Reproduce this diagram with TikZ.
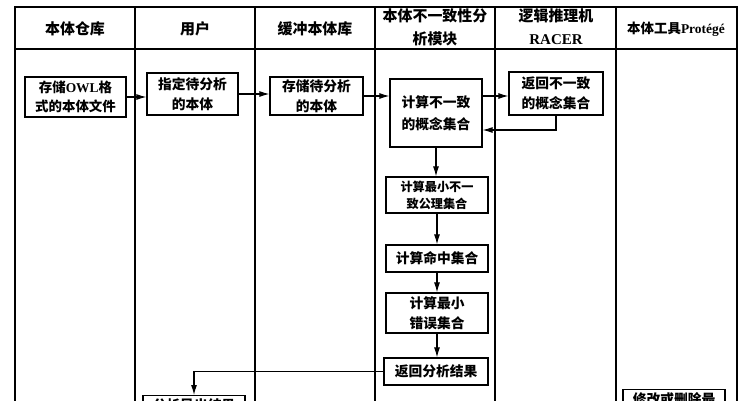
\documentclass[tikz,border=0pt]{standalone}
\usepackage{fontspec}
\setmainfont{Noto Sans CJK SC}
\newfontfamily\lat{Liberation Serif}
\usetikzlibrary{arrows.meta}
\begin{document}
\begin{tikzpicture}[x=1bp,y=-1bp,
  box/.style={draw,line width=1.3bp,align=center,inner sep=2bp,font=\bfseries\fontsize{13.8}{20}\selectfont},
  hd/.style={align=center,inner sep=0pt,font=\bfseries\fontsize{15}{23}\selectfont},
  arr/.style={line width=1.1bp,-{Latex[length=10bp,width=6bp]}},
  frame/.style={line width=1.3bp}]
\useasboundingbox (0,0) rectangle (752,400);
\fill[white] (0,0) rectangle (752,400);
\begin{scope}
\clip (0,0) rectangle (752,400);
% frame
\draw[frame] (15,420) -- (15,7) -- (737,7) -- (737,420);
\draw[frame] (15,49) -- (737,49);
\foreach \x in {135,255,375,495,616} \draw[frame] (\x,7) -- (\x,420);
% headers
\node[hd] (h1) at (75,29) {本体仓库};
\node[hd] (h2) at (195,29) {用户};
\node[hd] (h3) at (315,29) {缓冲本体库};
\node[hd] (h4) at (435,27) {本体不一致性分\\析模块};
\node[hd] (h5) at (556,27) {逻辑推理机\\{\lat RACER}};
\node[hd,font=\bfseries\fontsize{13.5}{16}\selectfont] (h6) at (676,29) {本体工具{\lat Protégé}};
% boxes
\node[box,minimum width=101bp,minimum height=40bp,font=\bfseries\fontsize{13.5}{19}\selectfont] (b1) at (75.5,97) {存储{\lat OWL}格\\式的本体文件};
\node[box,minimum width=91bp,minimum height=42bp] (b2) at (192.5,94) {指定待分析\\的本体};
\node[box,minimum width=93bp,minimum height=38bp] (b3) at (316.5,96) {存储待分析\\的本体};
\node[box,minimum width=92bp,minimum height=68bp,font=\bfseries\fontsize{13.8}{22}\selectfont] (b4) at (436,113) {计算不一致\\的概念集合};
\node[box,minimum width=94bp,minimum height=43bp] (b5) at (556,93.5) {返回不一致\\的概念集合};
\node[box,minimum width=102bp,minimum height=36bp,font=\bfseries\fontsize{12.2}{17}\selectfont] (b6) at (437,195) {计算最小不一\\致公理集合};
\node[box,minimum width=102bp,minimum height=27bp] (b7) at (437,258.5) {计算命中集合};
\node[box,minimum width=102bp,minimum height=40bp] (b8) at (437,313) {计算最小\\错误集合};
\node[box,minimum width=104bp,minimum height=27bp] (b9) at (436,371.5) {返回分析结果};
\node[box,anchor=north,minimum width=102bp,inner ysep=3bp] (b10) at (194,395) {分析导出结果\\ };
\node[box,anchor=north,minimum width=102bp,inner ysep=3bp] (b11) at (674,389) {修改或删除最\\小错误集合};
% connectors
\draw[arr] (b1.east) -- (b1.east -| b2.west);
\draw[arr] (b2.east) -- (b2.east -| b3.west);
\draw[arr] (b3.east) -- (b3.east -| b4.west);
\draw[arr] ([yshift=-2.5bp]b5.west -| b4.east) -- ([yshift=-2.5bp]b5.west);
\draw[arr] (b5.south) |- ([yshift=-17bp]b4.east);
\draw[arr] (b4.south) -- (b4.south |- b6.north);
\draw[arr] (b6.south) -- (b6.south |- b7.north);
\draw[arr] (b7.south) -- (b7.south |- b8.north);
\draw[arr] (b8.south) -- (b8.south |- b9.north);
\draw[arr] (b9.west) -| (b10.north);
\end{scope}
\end{tikzpicture}
\end{document}
